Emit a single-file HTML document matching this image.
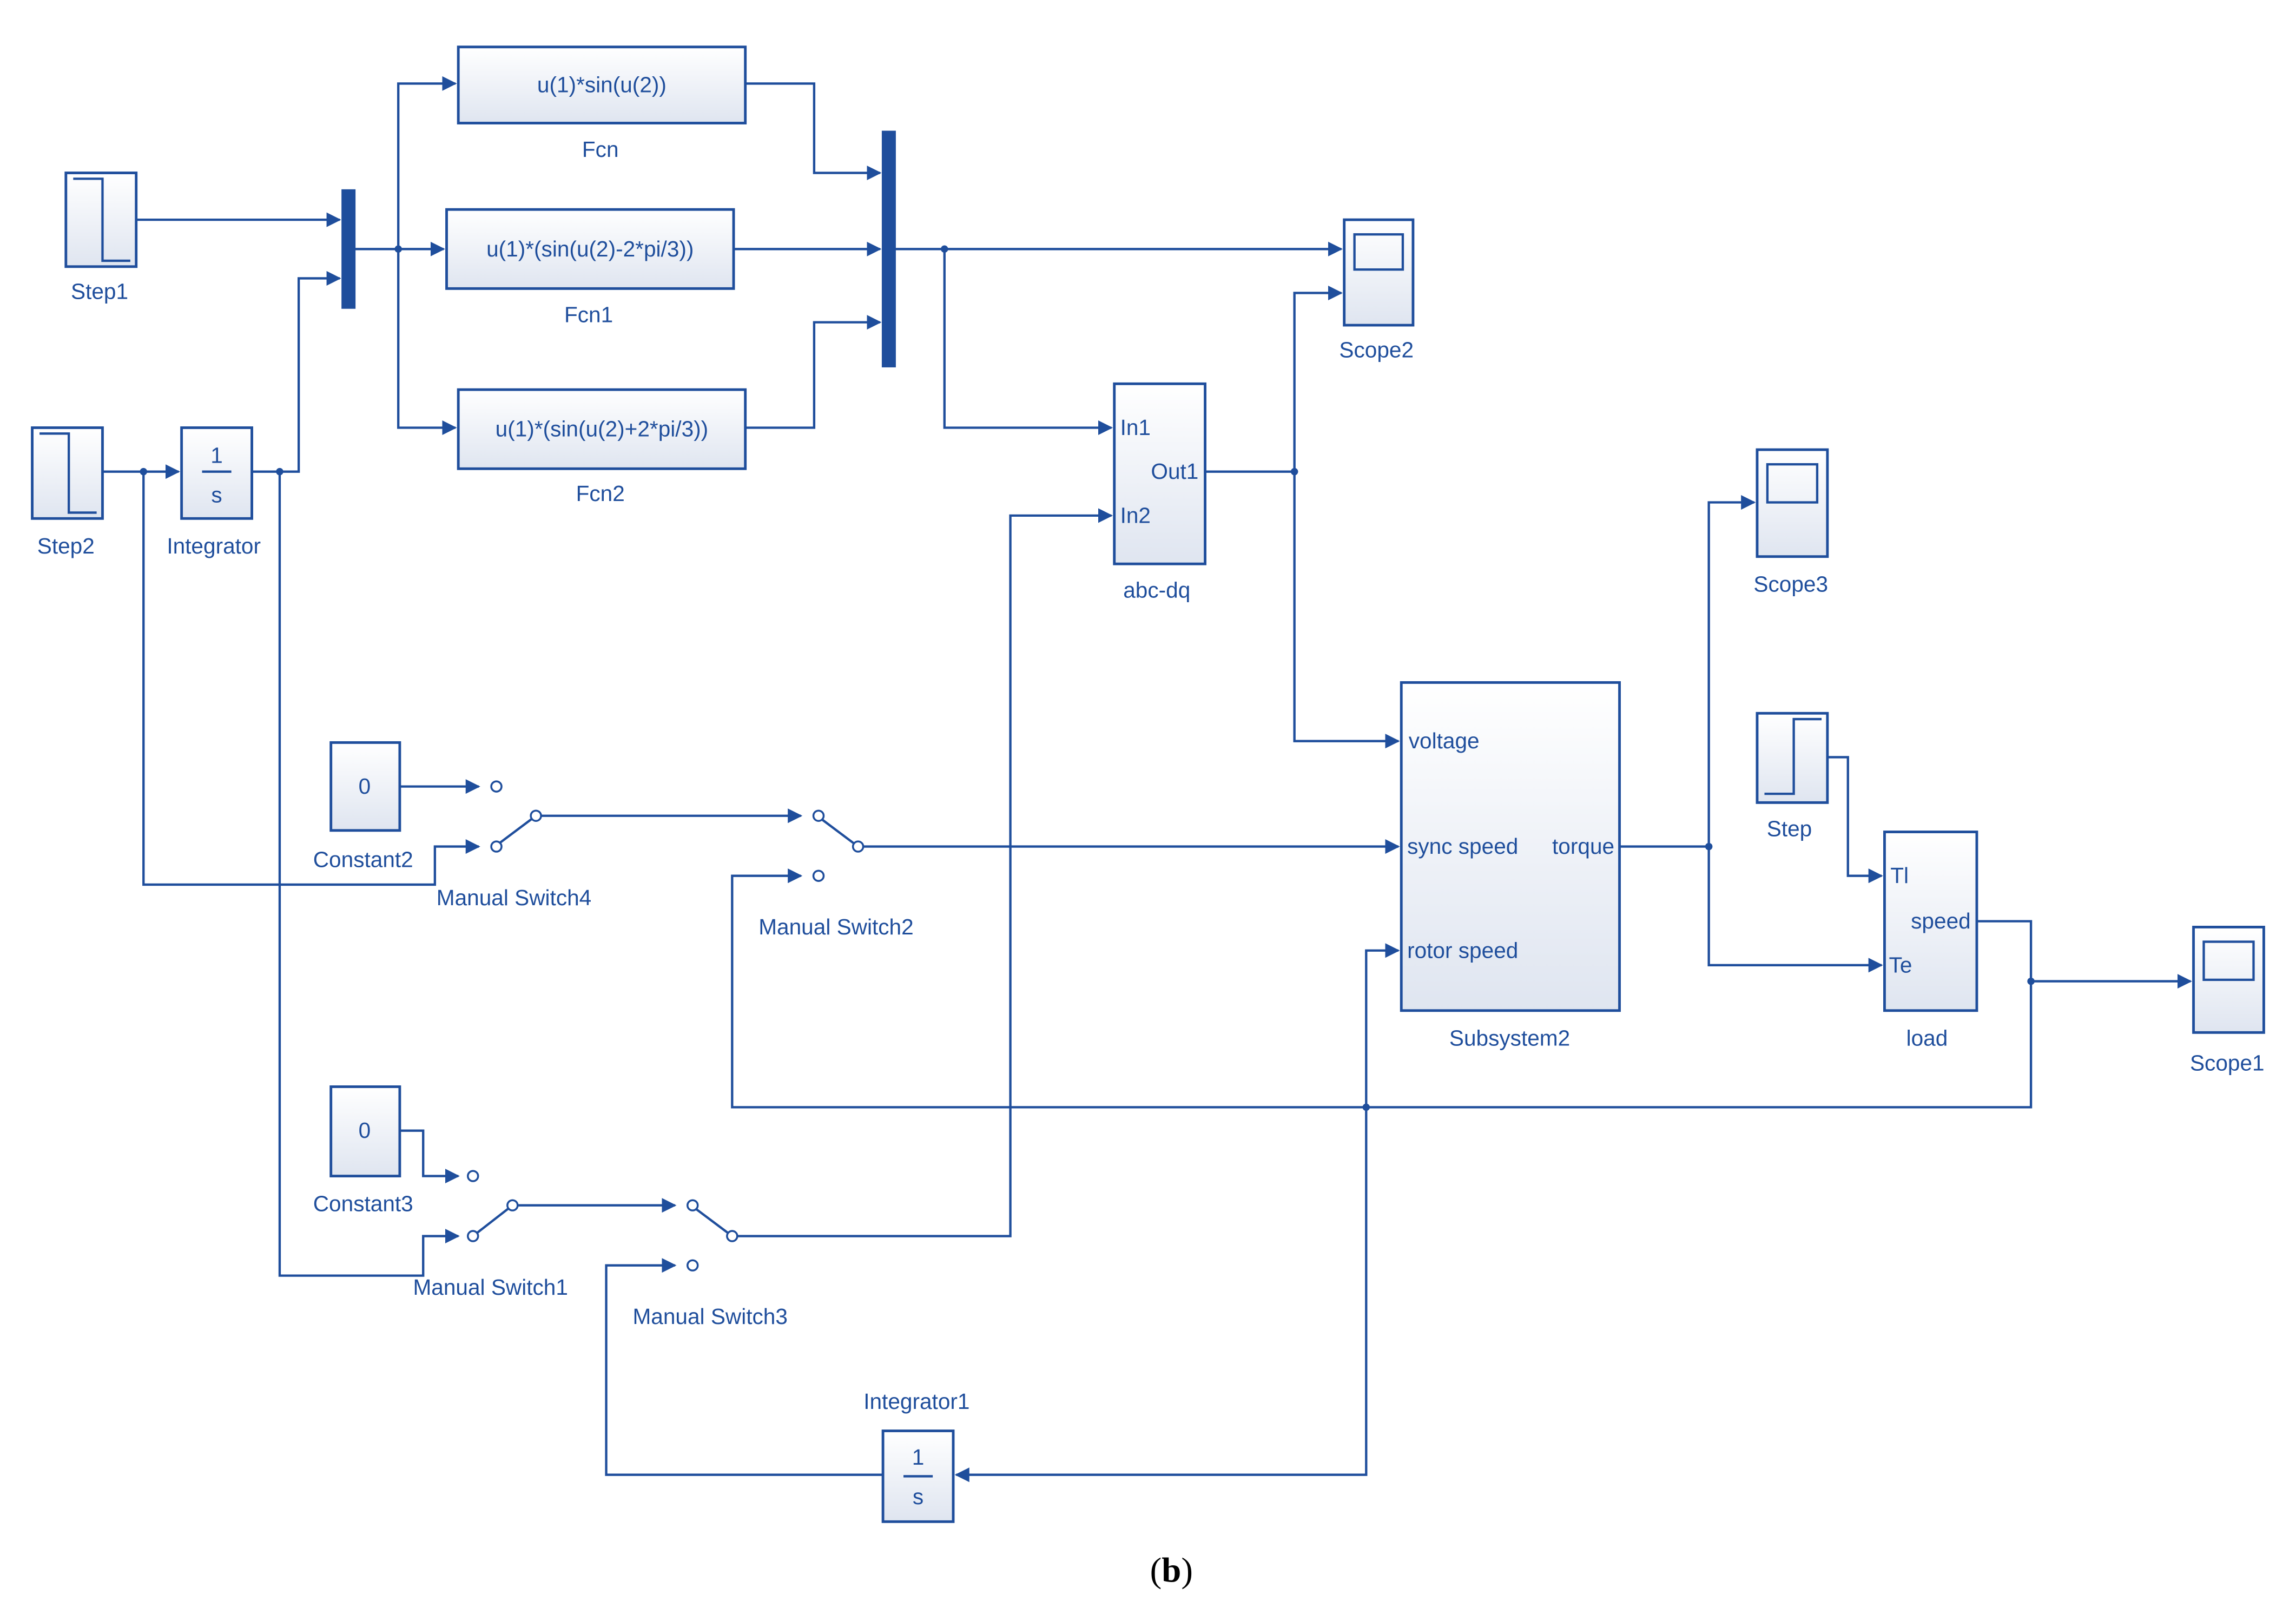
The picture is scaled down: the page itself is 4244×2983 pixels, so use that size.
<!DOCTYPE html>
<html><head><meta charset="utf-8"><style>
html,body{margin:0;padding:0;background:#fff;}
svg{display:block;}
text{font-family:"Liberation Sans",sans-serif;fill:#1f4e9c;font-size:15px;}
</style></head><body>
<svg width="4244" height="2983" viewBox="0 0 1568 1102" xmlns="http://www.w3.org/2000/svg">
<defs>
<linearGradient id="g" x1="0" y1="0" x2="0" y2="1"><stop offset="0" stop-color="#ffffff"/><stop offset="1" stop-color="#dfe5f0"/></linearGradient>
<marker id="a" markerWidth="10" markerHeight="10" refX="9" refY="5" orient="auto" markerUnits="userSpaceOnUse"><path d="M0,0 L10,5 L0,10 z" fill="#1f4e9c"/></marker>
</defs>
<g stroke="#1f4e9c" stroke-width="1.6" fill="none">
<!-- blocks -->
<g fill="url(#g)" stroke-width="1.8">
<rect x="45" y="118" width="48" height="64"/>
<rect x="22" y="292" width="48" height="62"/>
<rect x="124" y="292" width="48" height="62"/>
<rect x="313" y="32" width="196" height="52"/>
<rect x="305" y="143" width="196" height="54"/>
<rect x="313" y="266" width="196" height="54"/>
<rect x="918" y="150" width="47" height="72"/>
<rect x="761" y="262" width="62" height="123"/>
<rect x="1200" y="307" width="48" height="73"/>
<rect x="1200" y="487" width="48" height="61"/>
<rect x="957" y="466" width="149" height="224"/>
<rect x="1287" y="568" width="63" height="122"/>
<rect x="1498" y="633" width="48" height="72"/>
<rect x="226" y="507" width="47" height="60"/>
<rect x="226" y="742" width="47" height="61"/>
<rect x="603" y="977" width="48" height="62"/>
</g>
<rect x="234" y="130" width="8" height="80" fill="#1f4e9c"/>
<rect x="603" y="90" width="8" height="160" fill="#1f4e9c"/>
<!-- icons -->
<path d="M50,122 H70 V178 H89"/>
<path d="M27,296 H47 V350 H66"/>
<path d="M1205,542 H1225 V491 H1244"/>
<rect x="925" y="160" width="33" height="24"/>
<rect x="1207" y="317" width="34" height="26"/>
<rect x="1505" y="643" width="34" height="26"/>
<path d="M138,322 H158 M617,1008 H637"/>
<!-- connectors -->
<path d="M93,150 H232" marker-end="url(#a)"/>
<path d="M70,322 H122" marker-end="url(#a)"/>
<path d="M98,322 V604 H297 V578 H327" marker-end="url(#a)"/>
<path d="M172,322 H204 V190 H232" marker-end="url(#a)"/>
<path d="M191,322 V871 H289 V844 H313" marker-end="url(#a)"/>
<path d="M242,170 H303" marker-end="url(#a)"/>
<path d="M272,170 V57 H311" marker-end="url(#a)"/>
<path d="M272,170 V292 H311" marker-end="url(#a)"/>
<path d="M509,57 H556 V118 H601" marker-end="url(#a)"/>
<path d="M501,170 H601" marker-end="url(#a)"/>
<path d="M509,292 H556 V220 H601" marker-end="url(#a)"/>
<path d="M611,170 H916" marker-end="url(#a)"/>
<path d="M645,170 V292 H759" marker-end="url(#a)"/>
<path d="M823,322 H884 V200 H916" marker-end="url(#a)"/>
<path d="M884,322 V506 H955" marker-end="url(#a)"/>
<path d="M273,537 H327" marker-end="url(#a)"/>
<path d="M273,772 H289 V803 H313" marker-end="url(#a)"/>
<path d="M366,557 H547" marker-end="url(#a)"/>
<path d="M586,578 H955" marker-end="url(#a)"/>
<path d="M350,823 H461" marker-end="url(#a)"/>
<path d="M500,844 H690 V352 H759" marker-end="url(#a)"/>
<path d="M1106,578 H1167 V343 H1198" marker-end="url(#a)"/>
<path d="M1167,578 V659 H1285" marker-end="url(#a)"/>
<path d="M1248,517 H1262 V598 H1285" marker-end="url(#a)"/>
<path d="M1350,629 H1387 V670 H1496" marker-end="url(#a)"/>
<path d="M1387,670 V756 H500 V598 H547" marker-end="url(#a)"/>
<path d="M933,756 V649 H955" marker-end="url(#a)"/>
<path d="M933,756 V1007 H653" marker-end="url(#a)"/>
<path d="M603,1007 H414 V864 H461" marker-end="url(#a)"/>
<!-- switch levers & terminals -->
<path d="M338,578 L366,557 M558,557 L586,578 M323,844 L350,823 M472,823 L500,844"/>
<g fill="#fff" stroke-width="1.3">
<circle cx="339" cy="537" r="3.5"/><circle cx="339" cy="578" r="3.5"/><circle cx="366" cy="557" r="3.5"/>
<circle cx="559" cy="557" r="3.5"/><circle cx="559" cy="598" r="3.5"/><circle cx="586" cy="578" r="3.5"/>
<circle cx="323" cy="803" r="3.5"/><circle cx="323" cy="844" r="3.5"/><circle cx="350" cy="823" r="3.5"/>
<circle cx="473" cy="823" r="3.5"/><circle cx="473" cy="864" r="3.5"/><circle cx="500" cy="844" r="3.5"/>
</g>
<g fill="#1f4e9c" stroke="none">
<circle cx="98" cy="322" r="2.5"/><circle cx="191" cy="322" r="2.5"/><circle cx="272" cy="170" r="2.5"/>
<circle cx="645" cy="170" r="2.5"/><circle cx="884" cy="322" r="2.5"/><circle cx="1167" cy="578" r="2.5"/>
<circle cx="1387" cy="670" r="2.5"/><circle cx="933" cy="756" r="2.5"/>
</g>
</g>
<g text-anchor="middle">
<text x="68" y="204">Step1</text>
<text x="45" y="378">Step2</text>
<text x="146" y="378">Integrator</text>
<text x="148" y="316" font-size="14">1</text>
<text x="148" y="343" font-size="14">s</text>
<text x="411" y="63">u(1)*sin(u(2))</text>
<text x="410" y="107">Fcn</text>
<text x="403" y="175">u(1)*(sin(u(2)-2*pi/3))</text>
<text x="402" y="220">Fcn1</text>
<text x="411" y="298">u(1)*(sin(u(2)+2*pi/3))</text>
<text x="410" y="342">Fcn2</text>
<text x="940" y="244">Scope2</text>
<text x="790" y="408">abc-dq</text>
<text x="1223" y="404">Scope3</text>
<text x="1222" y="571">Step</text>
<text x="1031" y="714">Subsystem2</text>
<text x="1316" y="714">load</text>
<text x="1521" y="731">Scope1</text>
<text x="249" y="542">0</text>
<text x="248" y="592">Constant2</text>
<text x="249" y="777">0</text>
<text x="248" y="827">Constant3</text>
<text x="351" y="618">Manual Switch4</text>
<text x="571" y="638">Manual Switch2</text>
<text x="335" y="884">Manual Switch1</text>
<text x="485" y="904">Manual Switch3</text>
<text x="626" y="962">Integrator1</text>
<text x="627" y="1000" font-size="14">1</text>
<text x="627" y="1027" font-size="14">s</text>
</g>
<g font-size="14">
<text x="765" y="297">In1</text>
<text x="765" y="357">In2</text>
<text x="786" y="327">Out1</text>
<text x="962" y="511">voltage</text>
<text x="961" y="583">sync speed</text>
<text x="961" y="654">rotor speed</text>
<text x="1060" y="583">torque</text>
<text x="1291" y="603">Tl</text>
<text x="1290" y="664">Te</text>
<text x="1305" y="634">speed</text>
</g>
<text x="800" y="1080" text-anchor="middle" style="font-family:'Liberation Serif',serif;fill:#000;font-size:24px">(<tspan font-weight="bold">b</tspan>)</text>
</svg>
</body></html>
